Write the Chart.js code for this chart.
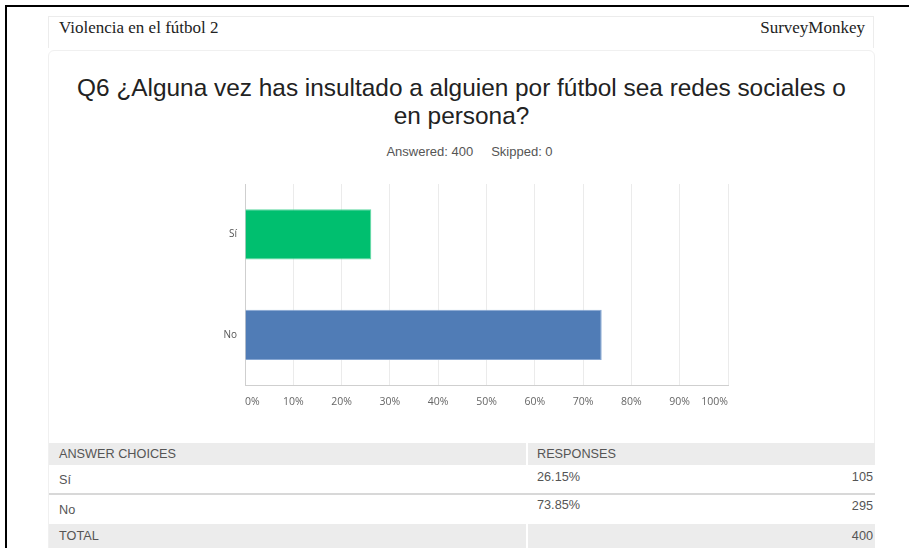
<!DOCTYPE html>
<html><head><meta charset="utf-8">
<script src="https://cdn.jsdelivr.net/npm/chart.js@4"></script>
<style>
body{margin:0;width:909px;height:548px;overflow:hidden;background:#fff;position:relative;font-family:"Liberation Sans",Arial,sans-serif;}
.frame{position:absolute;left:5px;top:5px;width:920px;height:560px;border-left:2px solid #000;border-top:2px solid #000;}
.hdr{position:absolute;left:48px;top:16px;width:826px;height:32px;border:1px solid #ececec;border-bottom:none;box-sizing:border-box;}
.hdr span{position:absolute;top:1px;font-family:"Liberation Serif","Times New Roman",serif;font-size:17px;color:#222;}
.card{position:absolute;left:48px;top:50px;width:827px;height:520px;border:1px solid #f0f0f0;border-radius:6px;box-sizing:border-box;}
.title{position:absolute;left:48px;width:827px;top:74px;text-align:center;font-size:24.4px;line-height:28px;color:#222;}
.sub{position:absolute;left:48px;width:843px;top:144px;text-align:center;font-size:13px;color:#555;}
#wrap{position:absolute;left:195px;top:170px;width:550px;height:245px;}
.tbl{position:absolute;left:49px;top:443px;width:826px;font-size:12.7px;color:#555;}
.row{position:relative;width:826px;}
.cell{position:absolute;}
</style></head>
<body>
<div class="frame"></div>
<div class="hdr"><span style="left:10px">Violencia en el fútbol 2</span><span style="right:8px">SurveyMonkey</span></div>
<div class="card"></div>
<div class="title">Q6 ¿Alguna vez has insultado a alguien por fútbol sea redes sociales o<br>en persona?</div>
<div class="sub">Answered: 400&nbsp;&nbsp;&nbsp;&nbsp;&nbsp;Skipped: 0</div>
<div id="wrap"><canvas id="c" width="550" height="245"></canvas></div>
<div class="tbl" id="tbl"></div>
<script>
const categories = ['Sí', 'No'];
const percentages = [26.15, 73.85];
const counts = [105, 295];
const total = 400;
const barColors = ['#00bf6f', '#507cb6'];
const barEdges = ['#5fd8a2', '#86a6d2'];
const tickValues = [0, 10, 20, 30, 40, 50, 60, 70, 80, 90, 100];

new Chart(document.getElementById('c'), {
  type: 'bar',
  data: {
    labels: categories,
    datasets: [{
      data: percentages,
      backgroundColor: barColors,
      borderColor: barEdges,
      borderWidth: 1,
      barPercentage: 0.5,
      categoryPercentage: 1.0
    }]
  },
  options: {
    indexAxis: 'y',
    responsive: false,
    animation: false,
    layout: { padding: { top: 3, right: 17, bottom: 0, left: 0 } },
    plugins: { legend: { display: false }, tooltip: { enabled: false } },
    scales: {
      x: {
        min: 0, max: 100,
        afterBuildTicks: s => { s.ticks = tickValues.map(v => ({ value: v })); },
        afterFit: s => { s.height = 30; },
        ticks: {
          callback: v => v + '%',
          align: 'inner',
          padding: 11,
          maxRotation: 0,
          autoSkip: false,
          color: '#666',
          font: { family: '"Open Sans"', size: 10.5 }
        },
        grid: { color: '#ebebeb', drawTicks: false, lineWidth: 1 },
        border: { color: '#cfcfcf', width: 1 }
      },
      y: {
        afterFit: s => { s.width = 50; },
        ticks: {
          padding: 8,
          color: '#555',
          font: { family: '"Open Sans"', size: 10 }
        },
        grid: { display: false, drawTicks: false },
        border: { color: '#cfcfcf', width: 1 }
      }
    }
  }
});

// table
const tbl = document.getElementById('tbl');
function row(h, bg, cells, borderBottom) {
  const r = document.createElement('div');
  r.className = 'row';
  r.style.height = h + 'px';
  r.style.background = bg;
  if (borderBottom) r.style.borderBottom = borderBottom;
  cells.forEach(c => {
    const d = document.createElement('div');
    d.className = 'cell';
    d.textContent = c.t;
    Object.assign(d.style, c.s);
    r.appendChild(d);
  });
  tbl.appendChild(r);
  return r;
}
const hdr = row(22, '#ececec', [
  { t: 'ANSWER CHOICES', s: { left: '10px', top: '4px' } },
  { t: 'RESPONSES', s: { left: '488px', top: '4px' } }
]);
const div1 = document.createElement('div');
Object.assign(div1.style, { position: 'absolute', left: '477px', top: 0, width: '2px', height: '22px', background: '#fff' });
hdr.appendChild(div1);
categories.forEach((c, i) => {
  row(i === 0 ? 28 : 29, '#fff', [
    { t: c, s: { left: '10px', top: '8px' } },
    { t: percentages[i].toFixed(2) + '%', s: { left: '488px', top: i === 0 ? '5px' : '3px' } },
    { t: String(counts[i]), s: { right: '2px', top: i === 0 ? '5px' : '4px' } }
  ], i === 0 ? '2px solid #d8d8d8' : null);
});
const tr = row(26, '#ececec', [
  { t: 'TOTAL', s: { left: '10px', top: '5px' } },
  { t: String(total), s: { right: '2px', top: '5px' } }
]);
const div2 = document.createElement('div');
Object.assign(div2.style, { position: 'absolute', left: '477px', top: 0, width: '2px', height: '26px', background: '#fff' });
tr.appendChild(div2);
</script>
</body></html>
